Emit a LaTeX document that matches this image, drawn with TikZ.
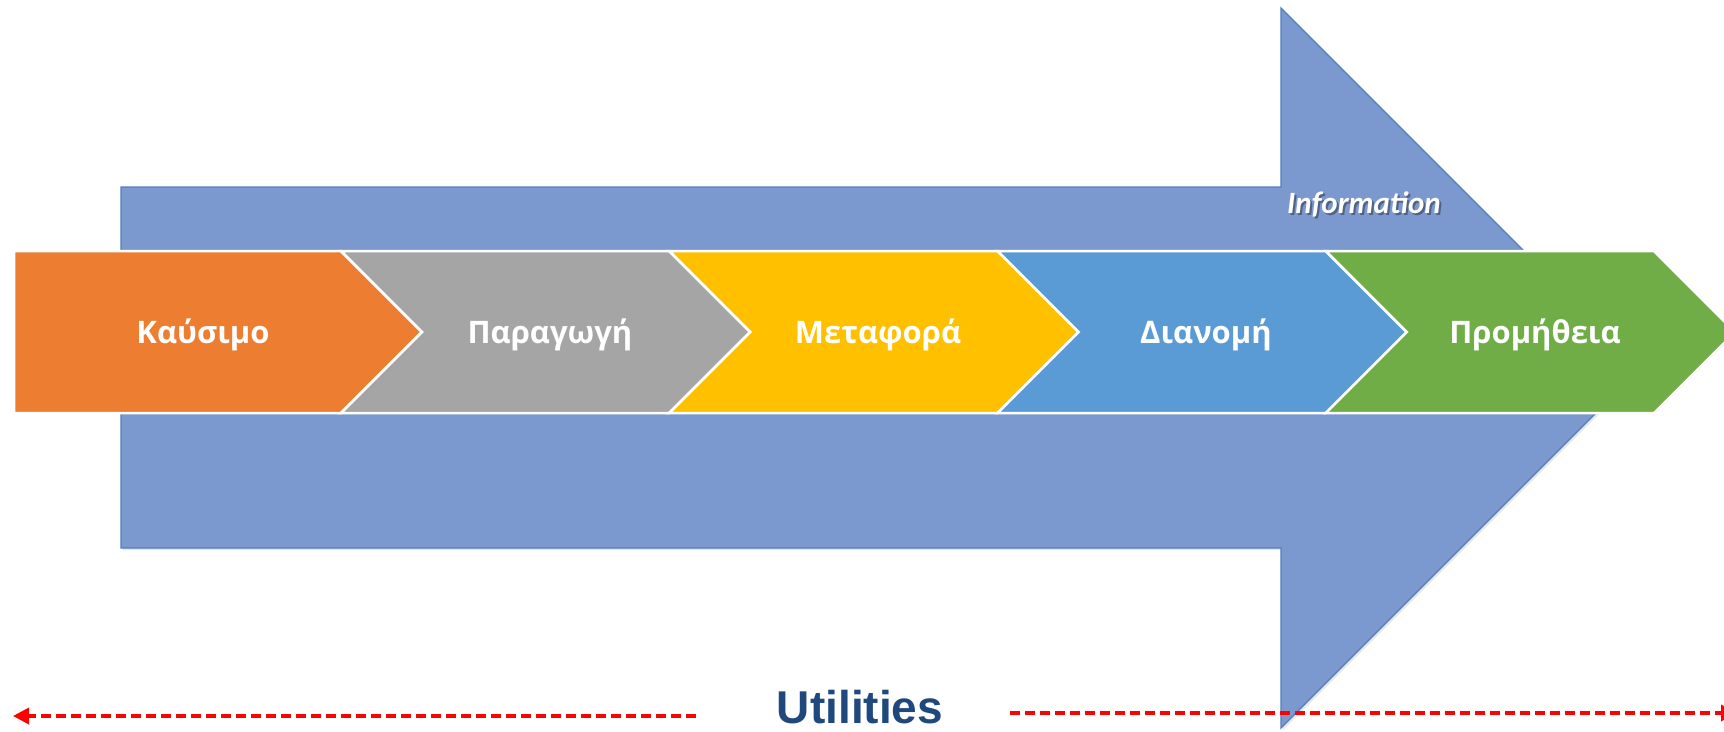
\documentclass[tikz,border=0pt]{standalone}
\usepackage{fontspec}
\setmainfont{Liberation Sans}
\newfontfamily\chevfont{Open Sans}
\newfontfamily\infofont{Carlito}
\usetikzlibrary{arrows.meta, shadows}

\definecolor{flowblue}{HTML}{7B99CE}
\definecolor{flowedge}{HTML}{4F7FBF}
\definecolor{fuelorange}{HTML}{ED7D31}
\definecolor{prodgray}{HTML}{A5A5A5}
\definecolor{transyellow}{HTML}{FFC000}
\definecolor{distblue}{HTML}{5B9BD5}
\definecolor{supplygreen}{HTML}{70AD47}
\definecolor{utilblue}{HTML}{1F497D}

\begin{document}
\begin{tikzpicture}[x=1pt, y=-1pt]
% Setup the styles
\tikzset{chevron style/.style={draw=white, line width=2.5pt, line join=miter},
	label style/.style={font=\chevfont\bfseries\fontsize{31}{36}\selectfont,
		text=white, anchor=base, inner sep=0pt},
	dash arrow/.style={draw=red, line width=3.5pt,
		dash pattern=on 10pt off 5pt,
		-{Triangle[length=16pt, width=16pt]}}}
\useasboundingbox (0,0) rectangle (1724,731);
\clip (0,0) rectangle (1724,731);

% Draw the big information arrow
\fill[flowblue, draw=flowedge, line width=1.2pt,
	drop shadow={opacity=0.18, shadow xshift=2pt, shadow yshift=-2pt}]
(121,187) -- (1281,187) -- (1281,8) -- (1641,368)
-- (1281,728) -- (1281,548) -- (121,548) -- cycle;

% Draw the chevrons
\fill[fuelorange, chevron style]
(14,251) -- (341,251) -- (422,332) -- (341,413) -- (14,413) -- cycle;
\foreach \col [count=\i] in {prodgray, transyellow, distblue, supplygreen}
{
	\pgfmathsetmacro{\xa}{341+328.25*(\i-1)}
	\pgfmathsetmacro{\xb}{341+328.25*\i}
	\fill[\col, chevron style]
	(\xa,251) -- (\xb,251) -- (\xb+81,332) -- (\xb,413)
	-- (\xa,413) -- (\xa+81,332) -- cycle;
}

% Chevron labels
\node[label style] (fuel)   at (203,343)  {Καύσιμο};
\node[label style] (prod)   at (550,343)  {Παραγωγή};
\node[label style] (trans)  at (878,343)  {Μεταφορά};
\node[label style] (dist)   at (1206,343) {Διανομή};
\node[label style] (supply) at (1535,343) {Προμήθεια};

% Information label with a soft shadow
\node[font=\infofont\bfseries\itshape\fontsize{31}{36}\selectfont,
	text=black, opacity=0.35, anchor=base, inner sep=0pt]
at (1366,215) {Information};
\node[font=\infofont\bfseries\itshape\fontsize{31}{36}\selectfont,
	text=white, anchor=base, inner sep=0pt] (info)
at (1364,213) {Information};

% Utilities and its two arrows
\node[font=\bfseries\fontsize{46}{52}\selectfont, text=utilblue,
	anchor=base, inner sep=0pt] (util) at (860,723) {Utilities};
\coordinate (left end)   at (13,716);
\coordinate (left start) at (696,716);
\coordinate (right start) at (1010,713);
\coordinate (right end)   at (1737,713);
\draw[dash arrow] (left start) -- (left end);
\draw[dash arrow] (right start) -- (right end);
\end{tikzpicture}
\end{document}
